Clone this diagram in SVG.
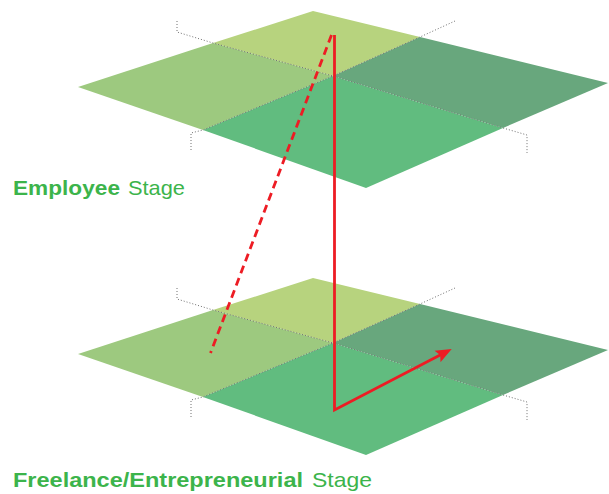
<svg xmlns="http://www.w3.org/2000/svg" width="609" height="494" viewBox="0 0 609 494">
<defs>
<style>
.q1{fill:#b7d37e}.q2{fill:#9dc97f}.q3{fill:#68a77d}.q4{fill:#61bc7f}
.dot{fill:none;stroke:#707070;stroke-width:1;stroke-dasharray:1 2}
.red{fill:none;stroke:#ed1c24;stroke-width:2.8}
.lbl{font-family:"Liberation Sans","Noto Sans",sans-serif;font-size:21px;fill:#3cb44b}
.b{font-weight:bold}
</style>
<marker id="ah" markerUnits="userSpaceOnUse" viewBox="0 -7 16 14" markerWidth="16" markerHeight="14" refX="10" refY="0" orient="auto">
<path d="M0,-6.5 L16,0 L0,6.5 L3,0 z" fill="#ed1c24"/>
</marker>
<g id="plane">
<polygon class="q1" points="313,11 420,37 333,76 213,43"/>
<polygon class="q2" points="78,87 213,43 333,76 203,130"/>
<polygon class="q3" points="420,37 608,83 503,128 333,76"/>
<polygon class="q4" points="333,76 503,128 366,188 203,130"/>
<polyline class="dot" points="177,21 177,32 213,43 333,76 503,128 527,135 527,153"/>
<polyline class="dot" points="191,150 191,133 203,130 333,76 420,37 455,21"/>
</g>
</defs>
<g id="employee-plane"><use href="#plane"/></g>
<g id="freelance-plane"><use href="#plane" transform="translate(0,267)"/></g>
<g id="connectors">
<line class="red" x1="331.5" y1="35" x2="210.5" y2="353" stroke-dasharray="8 5"/>
<polyline class="red" points="334.5,35 334.5,410 446.4,351.8" marker-end="url(#ah)"/>
</g>
<g id="label-employee">
<text class="lbl b" x="13" y="195" textLength="107" lengthAdjust="spacingAndGlyphs">Employee</text>
<text class="lbl" x="128" y="195" textLength="57" lengthAdjust="spacingAndGlyphs">Stage</text>
</g>
<g id="label-freelance">
<text class="lbl b" x="13" y="487" textLength="290" lengthAdjust="spacingAndGlyphs">Freelance/Entrepreneurial</text>
<text class="lbl" x="312" y="487" textLength="60" lengthAdjust="spacingAndGlyphs">Stage</text>
</g>
</svg>
